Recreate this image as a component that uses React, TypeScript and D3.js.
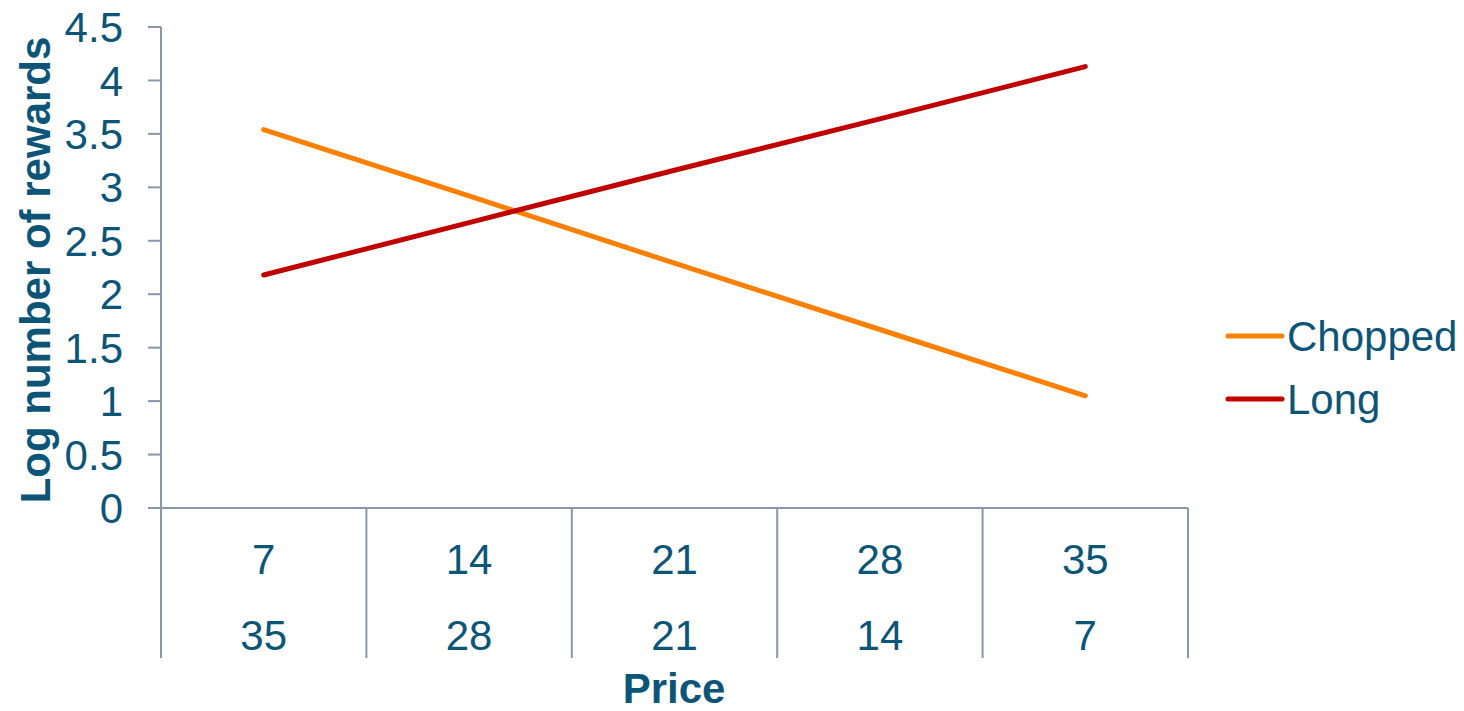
import React from "react";
import * as d3 from "d3";

const categoriesTop = ["7", "14", "21", "28", "35"];
const categoriesBottom = ["35", "28", "21", "14", "7"];
const chopped = [3.54, 2.92, 2.29, 1.67, 1.05];
const long = [2.18, 2.67, 3.16, 3.64, 4.13];
const yTicks = [0, 0.5, 1, 1.5, 2, 2.5, 3, 3.5, 4, 4.5];
const seriesNames = ["Chopped", "Long"];
const seriesColors = ["#FF8000", "#C00000"];

const W = 1464;
const H = 711;
const TEXT = "#0D5577";
const AXIS = "#8A97A8";
const FONT = "'Liberation Sans', Arial, sans-serif";

export default function App() {
  const x = d3.scaleBand<number>().domain(d3.range(5)).range([161, 1188]).padding(0);
  const y = d3.scaleLinear().domain([0, 4.5]).range([508, 27]);
  const cx = (i: number) => (x(i) as number) + x.bandwidth() / 2;
  const line = d3
    .line<number>()
    .x((_, i) => cx(i))
    .y((d) => y(d));
  const series = [chopped, long];

  return (
    <svg
      width={W}
      height={H}
      style={{ position: "absolute", left: 0, top: 0, background: "#fff" }}
      fontFamily={FONT}
    >
      {/* y axis */}
      <line x1={161} x2={161} y1={y(4.5)} y2={658} stroke={AXIS} strokeWidth={2} />
      {yTicks.map((t) => (
        <g key={t}>
          <line x1={148} x2={161} y1={y(t)} y2={y(t)} stroke={AXIS} strokeWidth={2} />
          <text
            x={123}
            y={y(t)}
            dy="0.36em"
            textAnchor="end"
            fontSize={42}
            fill={TEXT}
          >
            {t}
          </text>
        </g>
      ))}
      {/* x axis */}
      <line x1={148} x2={1188} y1={y(0)} y2={y(0)} stroke={AXIS} strokeWidth={2} />
      {d3.range(6).map((i) => {
        const xx = i < 5 ? (x(i) as number) : 1188;
        return <line key={i} x1={xx} x2={xx} y1={y(0)} y2={658} stroke={AXIS} strokeWidth={2} />;
      })}
      {categoriesTop.map((c, i) => (
        <text key={"t" + i} x={cx(i)} y={558.5} dy="0.36em" textAnchor="middle" fontSize={42} fill={TEXT}>
          {c}
        </text>
      ))}
      {categoriesBottom.map((c, i) => (
        <text key={"b" + i} x={cx(i)} y={634.5} dy="0.36em" textAnchor="middle" fontSize={42} fill={TEXT}>
          {c}
        </text>
      ))}
      {/* titles */}
      <text x={674} y={703} textAnchor="middle" fontSize={42} fontWeight="bold" fill={TEXT}>
        Price
      </text>
      <text
        transform={`translate(50,270) rotate(-90)`}
        textAnchor="middle"
        fontSize={42}
        fontWeight="bold"
        fill={TEXT}
      >
        Log number of rewards
      </text>
      {/* lines */}
      {series.map((s, k) => (
        <path
          key={k}
          d={line(s) as string}
          fill="none"
          stroke={seriesColors[k]}
          strokeWidth={5}
          strokeLinecap="round"
        />
      ))}
      {/* legend */}
      {seriesNames.map((n, k) => {
        const ly = k === 0 ? 336 : 399;
        return (
          <g key={n}>
            <line x1={1228} x2={1282} y1={ly} y2={ly} stroke={seriesColors[k]} strokeWidth={5} strokeLinecap="round" />
            <text x={1287} y={ly} dy="0.36em" fontSize={42} fill={TEXT}>
              {n}
            </text>
          </g>
        );
      })}
    </svg>
  );
}
